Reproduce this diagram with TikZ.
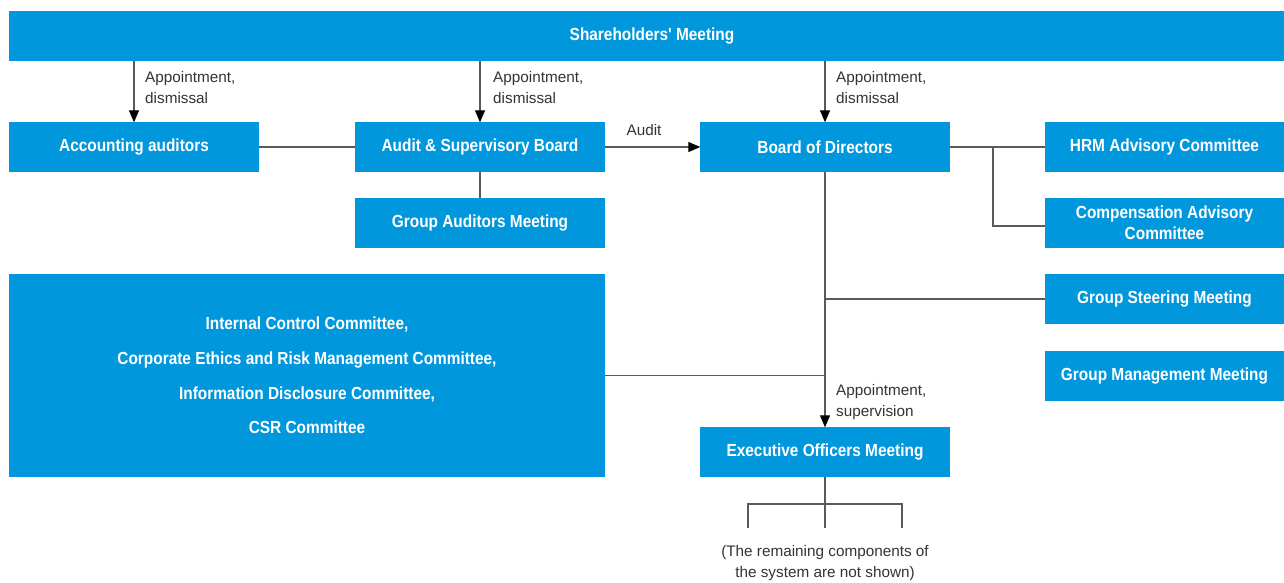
\documentclass[tikz,border=0pt]{standalone}
\usepackage{fontspec}
\setmainfont{Liberation Sans}
\newfontfamily\boxfont[FakeStretch=0.88]{Liberation Sans}
\usetikzlibrary{arrows.meta}
\definecolor{boxblue}{HTML}{0097DD}
\definecolor{linegray}{HTML}{5A5A5A}
\definecolor{labelgray}{HTML}{333333}
\tikzset{
  box/.style={rectangle, fill=boxblue, text=white, inner sep=0pt, minimum width=250pt, minimum height=50pt, align=center, font=\boxfont\bfseries\fontsize{17.5}{21}\selectfont},
  conn/.style={draw=linegray, line width=1.2pt},
  arr/.style={conn, -{Triangle[length=12pt,width=10pt,fill=black,color=black]}, shorten >=-0.5pt},
  lbl/.style={anchor=west, align=left, inner sep=0pt, text=labelgray, font=\fontsize{15.3}{21}\selectfont},
}
\begin{document}
\begin{tikzpicture}[x=1pt,y=-1pt]
\useasboundingbox (0,0) rectangle (1284,582);
% boxes
\node[box, minimum width=1275pt] (share) at (646.5,36) {\hspace*{11pt}Shareholders' Meeting};
\node[box] (acc) at (134,147) {Accounting auditors};
\node[box] (asb) at (480,147) {Audit \& Supervisory Board};
\node[box] (bod) at (825,147) {Board of Directors};
\node[box, minimum width=239pt] (hrm) at (1164.5,147) {HRM Advisory Committee};
\node[box, minimum width=239pt] (comp) at (1164.5,223) {Compensation Advisory\\Committee};
\node[box, minimum width=239pt] (gsm) at (1164.5,299) {Group Steering Meeting};
\node[box, minimum width=239pt] (gmm) at (1164.5,376) {Group Management Meeting};
\node[box] (gam) at (480,223) {Group Auditors Meeting};
\node[box, minimum width=596pt, minimum height=203pt, font=\boxfont\bfseries\fontsize{17.5}{34.7}\selectfont] (big) at (307,375.5) {Internal Control Committee,\\Corporate Ethics and Risk Management Committee,\\Information Disclosure Committee,\\CSR Committee};
\node[box] (exec) at (825,452) {Executive Officers Meeting};
% arrows from shareholders
\draw[arr] (share.south -| acc.north) -- (acc.north);
\draw[arr] (share.south -| asb.north) -- (asb.north);
\draw[arr] (share.south -| bod.north) -- (bod.north);
\node[lbl] (l1) at (145,88) {Appointment,\\dismissal};
\node[lbl] (l2) at (493,88) {Appointment,\\dismissal};
\node[lbl] (l3) at (836,88) {Appointment,\\dismissal};
% horizontal links
\draw[conn] (acc.east) -- (asb.west);
\draw[arr] (asb.east) -- (bod.west);
\node[text=labelgray, inner sep=0pt, font=\fontsize{15.3}{21}\selectfont] (laudit) at (644,130) {Audit};
\draw[conn] (asb.south) -- (gam.north);
\draw[conn] (bod.east) -- (hrm.west);
\coordinate (br) at (993,147);
\draw[conn] (br) |- ([yshift=-3pt]comp.west);
% board downwards
\draw[arr] (bod.south) -- (exec.north);
\draw[conn] (gsm.west) -- (gsm.west -| bod.south);
\draw[conn] (big.east) -- (big.east -| bod.south);
\node[lbl] (l4) at (836,402) {Appointment,\\supervision};
% executive branches
\coordinate (tb) at (825,528);
\coordinate (tl) at (748,528);
\coordinate (tr) at (902,528);
\draw[conn] (exec.south) -- (tb);
\draw[conn] (tl) -- (748,504) -- (902,504) -- (tr);
\node[align=center, inner sep=0pt, text=labelgray, font=\fontsize{15.3}{21}\selectfont] (note) at (825,563) {(The remaining components of\\the system are not shown)};
\end{tikzpicture}
\end{document}
